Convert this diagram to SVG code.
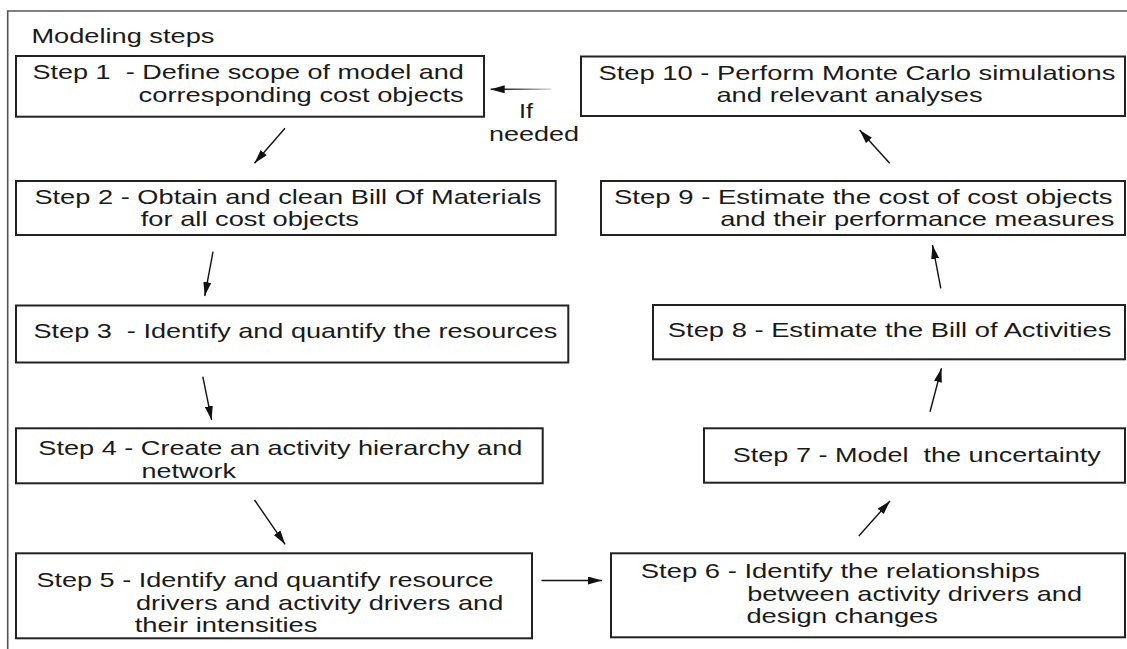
<svg xmlns="http://www.w3.org/2000/svg" width="1127" height="649" viewBox="0 0 1127 649">
<style>
.box{fill:#fff;stroke:#222;stroke-width:2}
.t{font-family:"Liberation Sans",Arial,Helvetica,sans-serif;font-size:21px;fill:#1a1a1a}
.c{stroke:#111;stroke-width:1.4;fill:none;marker-end:url(#ah)}
.frame{stroke:#555;stroke-width:1.6;fill:none}
</style>
<defs>
<marker id="ah" markerUnits="userSpaceOnUse" markerWidth="14" markerHeight="8" refX="14" refY="4" orient="auto">
<path d="M0,0 L14,4 L0,8 z" fill="#111"/>
</marker>
<linearGradient id="fade" gradientUnits="userSpaceOnUse" x1="552" y1="0" x2="500" y2="0">
<stop offset="0" stop-color="#ddd"/>
<stop offset="1" stop-color="#111"/>
</linearGradient>
</defs>
<path class="frame" d="M7.7,649 V11 H1127"/>
<text class="t" x="31.4" y="43.3" textLength="183" lengthAdjust="spacingAndGlyphs">Modeling steps</text>
<g id="step1">
<rect class="box" x="16" y="56" width="468" height="60.7"/>
<text class="t" x="32.5" y="79.3" textLength="431.3" lengthAdjust="spacingAndGlyphs" xml:space="preserve">Step 1  - Define scope of model and</text>
<text class="t" x="138.5" y="101.7" textLength="325.3" lengthAdjust="spacingAndGlyphs">corresponding cost objects</text>
</g>
<g id="step10">
<rect class="box" x="581" y="56.5" width="544" height="59.5"/>
<text class="t" x="598.4" y="80" textLength="517" lengthAdjust="spacingAndGlyphs">Step 10 - Perform Monte Carlo simulations</text>
<text class="t" x="716.4" y="101.7" textLength="266.2" lengthAdjust="spacingAndGlyphs">and relevant analyses</text>
</g>
<g id="step2">
<rect class="box" x="16" y="181" width="539.7" height="54"/>
<text class="t" x="34.4" y="204" textLength="507.1" lengthAdjust="spacingAndGlyphs">Step 2 - Obtain and clean Bill Of Materials</text>
<text class="t" x="140.8" y="226" textLength="218.2" lengthAdjust="spacingAndGlyphs">for all cost objects</text>
</g>
<g id="step9">
<rect class="box" x="601" y="181" width="524" height="54"/>
<text class="t" x="614" y="204" textLength="498.6" lengthAdjust="spacingAndGlyphs">Step 9 - Estimate the cost of cost objects</text>
<text class="t" x="720.2" y="226" textLength="394.2" lengthAdjust="spacingAndGlyphs">and their performance measures</text>
</g>
<g id="step3">
<rect class="box" x="16" y="305.5" width="552.3" height="57"/>
<text class="t" x="33.5" y="337.5" textLength="523.9" lengthAdjust="spacingAndGlyphs" xml:space="preserve">Step 3  - Identify and quantify the resources</text>
</g>
<g id="step8">
<rect class="box" x="653" y="305" width="472" height="54.3"/>
<text class="t" x="667.8" y="336.7" textLength="443.7" lengthAdjust="spacingAndGlyphs">Step 8 - Estimate the Bill of Activities</text>
</g>
<g id="step4">
<rect class="box" x="16" y="428.3" width="526.7" height="55"/>
<text class="t" x="38.3" y="455" textLength="484.1" lengthAdjust="spacingAndGlyphs">Step 4 - Create an activity hierarchy and</text>
<text class="t" x="141.6" y="478.3" textLength="94.4" lengthAdjust="spacingAndGlyphs">network</text>
</g>
<g id="step7">
<rect class="box" x="704" y="428.3" width="421" height="54.4"/>
<text class="t" x="732.8" y="461.7" textLength="368" lengthAdjust="spacingAndGlyphs" xml:space="preserve">Step 7 - Model  the uncertainty</text>
</g>
<g id="step5">
<rect class="box" x="16" y="553.3" width="516" height="85"/>
<text class="t" x="36.4" y="586.7" textLength="457.3" lengthAdjust="spacingAndGlyphs">Step 5 - Identify and quantify resource</text>
<text class="t" x="135.9" y="609.5" textLength="367.4" lengthAdjust="spacingAndGlyphs">drivers and activity drivers and</text>
<text class="t" x="134.7" y="632" textLength="182.9" lengthAdjust="spacingAndGlyphs">their intensities</text>
</g>
<g id="step6">
<rect class="box" x="611" y="553.3" width="514" height="84"/>
<text class="t" x="640.8" y="577.7" textLength="399.2" lengthAdjust="spacingAndGlyphs">Step 6 - Identify the relationships</text>
<text class="t" x="747.2" y="600.7" textLength="334.8" lengthAdjust="spacingAndGlyphs">between activity drivers and</text>
<text class="t" x="746.4" y="623.3" textLength="191.6" lengthAdjust="spacingAndGlyphs">design changes</text>
</g>
<g id="connectors">
<line x1="551.5" y1="89.3" x2="490.7" y2="89.3" stroke="url(#fade)" stroke-width="1.4" marker-end="url(#ah)"/>
<text class="t" x="526" y="118" text-anchor="middle" textLength="14" lengthAdjust="spacingAndGlyphs" style="font-size:20px">If</text>
<text class="t" x="489" y="141" textLength="90" lengthAdjust="spacingAndGlyphs" style="font-size:20px">needed</text>
<line class="c" x1="285" y1="128.3" x2="254.5" y2="163.3"/>
<line class="c" x1="213" y1="251.7" x2="204.7" y2="296"/>
<line class="c" x1="202.8" y1="376.7" x2="211.6" y2="420"/>
<line class="c" x1="254.5" y1="500" x2="285.1" y2="544.3"/>
<line class="c" x1="541.5" y1="580.5" x2="602" y2="580.5" stroke="#555"/>
<line class="c" x1="858.8" y1="536" x2="890" y2="501"/>
<line class="c" x1="930" y1="411.7" x2="941.5" y2="368.3"/>
<line class="c" x1="940.8" y1="288.3" x2="932.5" y2="245"/>
<line class="c" x1="889.7" y1="163.3" x2="859.6" y2="130"/>
</g>
</svg>
